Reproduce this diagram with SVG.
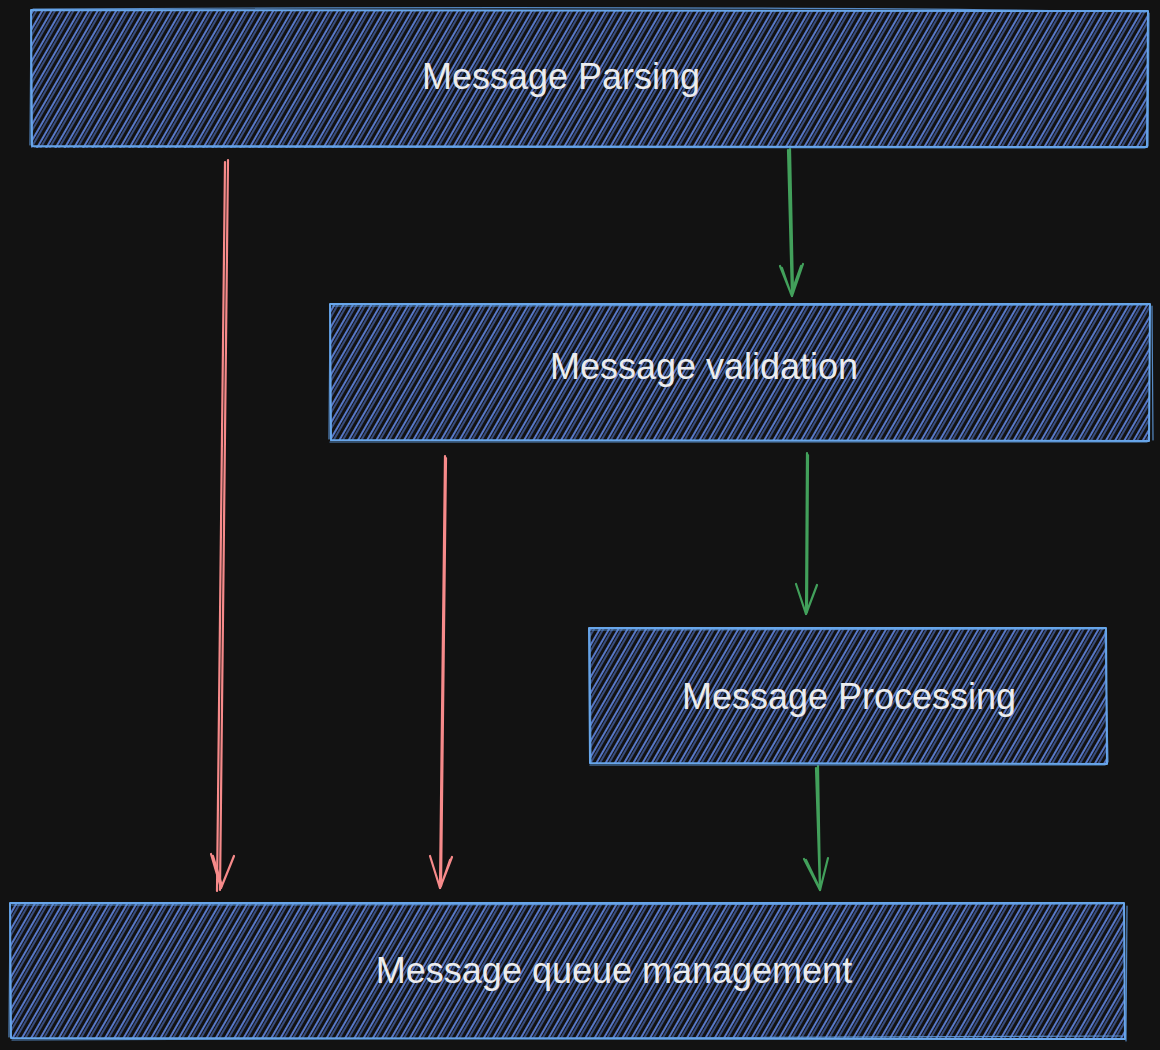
<svg xmlns="http://www.w3.org/2000/svg" width="1160" height="1050" viewBox="0 0 1160 1050">
<defs>
<pattern id="hach" patternUnits="userSpaceOnUse" width="8" height="16" patternTransform="rotate(30)">
<line x1="2" y1="0" x2="2" y2="16" stroke="#6890f4" stroke-width="1.6"/>
<line x1="5" y1="0" x2="5" y2="16" stroke="#5d86ea" stroke-width="1.2" opacity="0.85"/>
</pattern>
<style>
.fill{fill:url(#hach);}
.edge{fill:none;stroke:#68a6ea;stroke-width:2;stroke-linejoin:round;stroke-linecap:round;}
.edge2{fill:none;stroke:#629fe4;stroke-width:1.2;opacity:0.85;stroke-linecap:round;}
.lbl{font-family:"Liberation Sans",Arial,sans-serif;font-size:36px;fill:#ececec;text-anchor:middle;}
.g{fill:none;stroke:#42a05b;stroke-width:2.2;stroke-linecap:round;stroke-linejoin:round;}
.r{fill:none;stroke:#f68a8a;stroke-width:2.2;stroke-linecap:round;stroke-linejoin:round;}
</style>
</defs>
<rect width="1160" height="1050" fill="#121212"/>

<g id="connectors">
<path class="g" d="M788 150 L792 296 M790 149 L793 293"/>
<path class="g" d="M780 266 L792 296 L803 264 M782 268 L791 294 L801 266"/>
<path class="g" d="M807 453 L806 614 M808 455 L807 612"/>
<path class="g" d="M796 584 L806 614 L817 585"/>
<path class="g" d="M816 768 L820 890 M818 766 L820 888"/>
<path class="g" d="M804 859 L820 890 L828 858 M806 860 L819 887"/>
<path class="r" d="M228 160 L220 890 M225 162 L217 891"/>
<path class="r" d="M211 854 L221 888 L234 856 M213 856 L222 886"/>
<path class="r" d="M445 456 L440 888 M446 458 L441 886"/>
<path class="r" d="M430 856 L440 888 L452 857 M450 860 L441 886"/>
</g>

<g id="node-parsing">
<rect class="fill" x="31" y="10" width="1117" height="138"/>
<path class="edge" d="M31 10 L1148 11 L1147 147 L32 146 Z"/>
<path class="edge2" d="M33 9 C400 7 800 6 1146 12 M1149 13 L1148 146 M1145 148 L34 147 M30 145 L31 12"/>
<text class="lbl" x="561" y="89">Message Parsing</text>
</g>

<g id="node-validation">
<rect class="fill" x="330" y="304" width="820" height="137"/>
<path class="edge" d="M330 304 L1150 304 L1149 441 L331 440 Z"/>
<path class="edge2" d="M332 306 L1148 305 M1152 306 L1153 440 M1147 442 L330 442 M329 439 L330 306"/>
<text class="lbl" x="704" y="379">Message validation</text>
</g>

<g id="node-processing">
<rect class="fill" x="589" y="628" width="518" height="136"/>
<path class="edge" d="M589 628 L1106 628 L1107 764 L590 763 Z"/>
<path class="edge2" d="M591 630 L1104 629 M1105 631 L1108 762 M1105 765 L590 765 M591 762 L590 632"/>
<text class="lbl" x="849" y="709">Message Processing</text>
</g>

<g id="node-queue">
<rect class="fill" x="10" y="903" width="1114" height="136"/>
<path class="edge" d="M10 903 L1124 903 L1125 1039 L11 1038 Z"/>
<path class="edge2" d="M12 905 L1122 904 M1127 906 L1126 1041 M1122 1036 L12 1040 M9 1037 L10 906"/>
<text class="lbl" x="614" y="983">Message queue management</text>
</g>
</svg>
